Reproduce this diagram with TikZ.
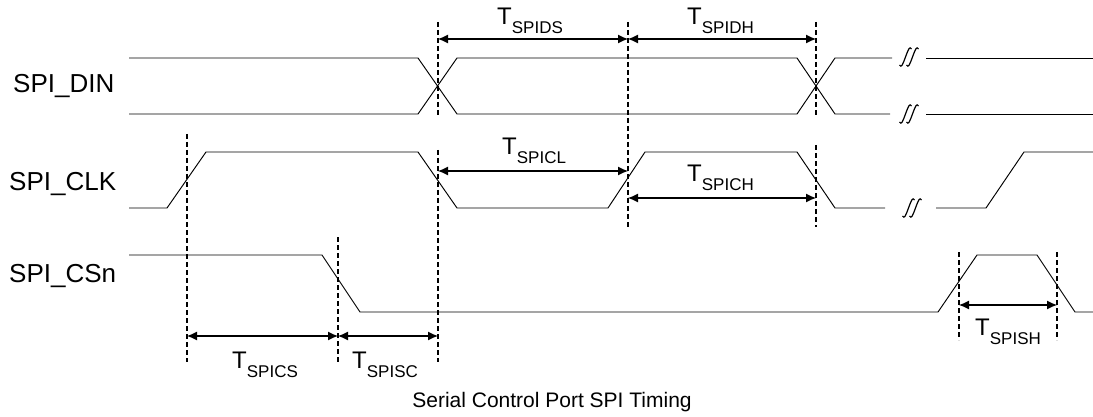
\documentclass[tikz,border=0pt]{standalone}
\usepackage{fontspec}
\setmainfont{Liberation Sans}
\usetikzlibrary{arrows.meta}
\begin{document}
\begin{tikzpicture}[x=1pt,y=-1pt,
  sig/.style={line width=0.95pt, line join=miter},
  guide/.style={line width=1.1pt, dash pattern=on 5pt off 3pt},
  dim/.style={line width=1.1pt, {Latex[length=10pt,width=9pt]}-{Latex[length=10pt,width=9pt]}},
  lbl/.style={inner sep=0pt, anchor=base west, font=\fontsize{26}{30}\selectfont},
  tlbl/.style={inner sep=0pt, anchor=base west},
  brk/.pic={\foreach \dx in {-3.5,3.5}{
      \draw[line width=1.2pt, xshift=\dx] (-6,8) .. controls (-4,11) and (-3,8) .. (0,0)
            .. controls (3,-8) and (4,-11) .. (6,-8);}}]
\newcommand{\tsub}[1]{{\fontsize{24}{28}\selectfont T}\raisebox{-9pt}{\fontsize{17}{20}\selectfont #1}}
\useasboundingbox (0,0) rectangle (1093,417);

% labels
\node[lbl] (ldin) at (13,93) {SPI\_DIN};
\node[lbl] (lclk) at (9,190) {SPI\_CLK};
\node[lbl] (lcs) at (9,282) {SPI\_CSn};

% SPI_DIN
\draw[sig] (129,58) -- (418,58) -- (457,114) -- (797,114) -- (835,58) -- (892,58);
\draw[sig] (129,114) -- (418,114) -- (457,58) -- (797,58) -- (835,114) -- (890,114);
\draw[sig] (926,58) -- (1093,58);
\draw[sig] (926,114) -- (1093,114);
\pic at (909,57) {brk};
\pic at (909,114) {brk};

% SPI_CLK
\draw[sig] (129,208) -- (167,208) -- (206,152) -- (418,152) -- (457,208) -- (608,208) -- (645,152) -- (797,152) -- (835,208) -- (885,208);
\draw[sig] (936,208) -- (986,208) -- (1024,152) -- (1093,152);
\pic at (912,208) {brk};

% SPI_CSn
\draw[sig] (129,255) -- (322,255) -- (360,312) -- (938,312) -- (977,255) -- (1037,255) -- (1075,312) -- (1093,312);

% guide lines
\coordinate (g1t) at (438,22);  \coordinate (g1b) at (438,117);
\coordinate (g1u) at (438,150); \coordinate (g1d) at (438,362);
\coordinate (g2t) at (628,22);  \coordinate (g2b) at (628,228);
\coordinate (g3t) at (816,22);  \coordinate (g3b) at (816,117);
\coordinate (g3u) at (816,145); \coordinate (g3d) at (816,227);
\coordinate (g4t) at (187,134); \coordinate (g4b) at (187,362);
\coordinate (g5t) at (338,237); \coordinate (g5b) at (338,362);
\coordinate (g6t) at (959,252); \coordinate (g6b) at (959,340);
\coordinate (g7t) at (1057,252); \coordinate (g7b) at (1057,340);
\draw[guide] (g1t) -- (g1b);
\draw[guide] (g1u) -- (g1d);
\draw[guide] (g2t) -- (g2b);
\draw[guide] (g3t) -- (g3b);
\draw[guide] (g3u) -- (g3d);
\draw[guide] (g4t) -- (g4b);
\draw[guide] (g5t) -- (g5b);
\draw[guide] (g6t) -- (g6b);
\draw[guide] (g7t) -- (g7b);

% dimension arrows
\draw[dim] (438,39) -- (628,39);
\draw[dim] (628,39) -- (816,39);
\draw[dim] (438,171) -- (628,171);
\draw[dim] (628,198) -- (816,198);
\draw[dim] (187,336) -- (338,336);
\draw[dim] (338,336) -- (438,336);
\draw[dim] (959,305) -- (1057,305);

% timing labels
\node[tlbl] (tds) at (497,25) {\tsub{SPIDS}};
\node[tlbl] (tdh) at (687,25) {\tsub{SPIDH}};
\node[tlbl] (tcl) at (502,155) {\tsub{SPICL}};
\node[tlbl] (tch) at (687,182) {\tsub{SPICH}};
\node[tlbl] (tcs) at (232,368) {\tsub{SPICS}};
\node[tlbl] (tsc) at (352,368) {\tsub{SPISC}};
\node[tlbl] (tsh) at (975,335) {\tsub{SPISH}};

% caption
\node[inner sep=0pt, anchor=base, font=\fontsize{21}{25}\selectfont] (cap) at (552,407) {Serial Control Port SPI Timing};
\end{tikzpicture}
\end{document}
